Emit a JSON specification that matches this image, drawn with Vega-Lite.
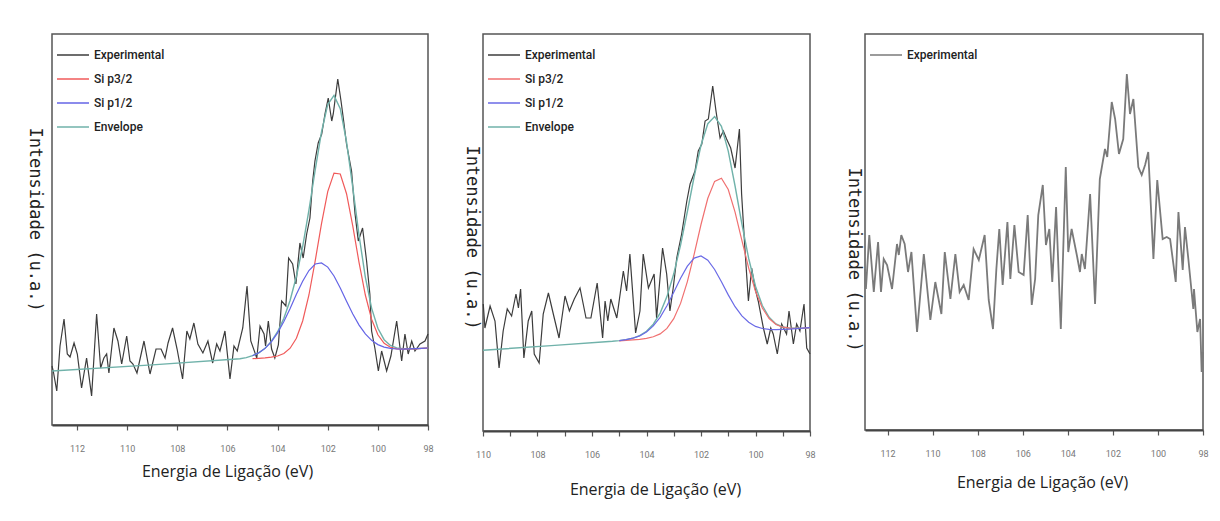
{
  "$schema": "https://vega.github.io/schema/vega-lite/v6.json",
  "background": "white",
  "padding": {"left": 25, "top": 33, "right": 5, "bottom": 5},
  "bounds": "flush",
  "spacing": 55,
  "resolve": {"scale": {"color": "independent"}, "legend": {"color": "independent"}},
  "config": {
    "view": {"stroke": "#555", "strokeWidth": 1.5},
    "axis": {"grid": false},
    "axisX": {
      "values": [98, 99, 100, 101, 102, 103, 104, 105, 106, 107, 108, 109, 110, 111, 112, 113],
      "labelExpr": "datum.value % 2 === 0 ? datum.label : ''",
      "tickSize": 5, "tickColor": "#555", "tickWidth": 1.2,
      "domainColor": "#444", "domainWidth": 2,
      "labelFont": "Roboto", "labelFontSize": 9, "labelColor": "#777", "labelPadding": 14,
      "labelFlush": false, "labelOverlap": false,
      "titleFont": "Open Sans", "titleFontSize": 16, "titleFontWeight": "normal", "titleColor": "#222",
      "titleBaseline": "middle", "titleAlign": "center"
    },
    "axisY": {
      "domain": false, "ticks": false, "labels": false,
      "titleFont": "DejaVu Sans Mono", "titleFontSize": 17, "titleFontWeight": "normal", "titleColor": "#222",
      "titleAngle": 90, "titleBaseline": "middle", "titleAlign": "center"
    },
    "legend": {
      "orient": "top-left", "offset": 10, "padding": 0,
      "labelFont": "Roboto", "labelFontSize": 12, "labelFontWeight": 500, "labelColor": "#222", "labelOffset": 10,
      "symbolSize": 400, "symbolStrokeWidth": 1.5, "rowPadding": 7
    }
  },
  "datasets": {
    "e1": [
      {"E":113.0,"I":59},{"E":112.95,"I":54},{"E":112.81,"I":34},{"E":112.68,"I":79},{"E":112.52,"I":106},{"E":112.39,"I":71},{"E":112.28,"I":68},{"E":112.12,"I":82},{"E":111.99,"I":71},{"E":111.82,"I":37},{"E":111.62,"I":67},{"E":111.42,"I":29},{"E":111.22,"I":111},{"E":111.06,"I":57},{"E":110.93,"I":67},{"E":110.82,"I":71},{"E":110.73,"I":52},{"E":110.53,"I":97},{"E":110.37,"I":84},{"E":110.22,"I":61},{"E":110.02,"I":89},{"E":109.89,"I":64},{"E":109.77,"I":61},{"E":109.61,"I":52},{"E":109.33,"I":84},{"E":109.09,"I":51},{"E":108.85,"I":76},{"E":108.65,"I":76},{"E":108.49,"I":67},{"E":108.37,"I":82},{"E":108.19,"I":97},{"E":108.01,"I":76},{"E":107.79,"I":46},{"E":107.62,"I":94},{"E":107.5,"I":86},{"E":107.34,"I":102},{"E":107.18,"I":81},{"E":106.98,"I":72},{"E":106.78,"I":84},{"E":106.59,"I":62},{"E":106.43,"I":81},{"E":106.3,"I":74},{"E":106.1,"I":94},{"E":105.9,"I":46},{"E":105.74,"I":79},{"E":105.61,"I":74},{"E":105.39,"I":97},{"E":105.22,"I":139},{"E":105.07,"I":84},{"E":104.83,"I":67},{"E":104.7,"I":99},{"E":104.54,"I":91},{"E":104.48,"I":79},{"E":104.37,"I":104},{"E":104.24,"I":76},{"E":104.11,"I":67},{"E":103.97,"I":80},{"E":103.84,"I":124},{"E":103.67,"I":119},{"E":103.56,"I":167},{"E":103.4,"I":161},{"E":103.27,"I":141},{"E":103.11,"I":182},{"E":102.98,"I":167},{"E":102.84,"I":191},{"E":102.71,"I":207},{"E":102.6,"I":244},{"E":102.51,"I":264},{"E":102.38,"I":282},{"E":102.24,"I":291},{"E":102.11,"I":311},{"E":101.98,"I":327},{"E":101.84,"I":304},{"E":101.78,"I":311},{"E":101.6,"I":346},{"E":101.47,"I":324},{"E":101.38,"I":307},{"E":101.25,"I":281},{"E":101.05,"I":254},{"E":100.91,"I":211},{"E":100.78,"I":184},{"E":100.61,"I":197},{"E":100.45,"I":164},{"E":100.32,"I":131},{"E":100.25,"I":94},{"E":100.12,"I":77},{"E":99.98,"I":54},{"E":99.85,"I":74},{"E":99.65,"I":54},{"E":99.48,"I":69},{"E":99.25,"I":104},{"E":99.05,"I":64},{"E":98.92,"I":91},{"E":98.79,"I":71},{"E":98.65,"I":84},{"E":98.52,"I":74},{"E":98.32,"I":81},{"E":98.12,"I":84},{"E":98.0,"I":91}
    ],
    "f1": [
      {"E":113,"Envelope":54.0},{"E":109,"Envelope":60.1},{"E":105.5,"Envelope":66.2},{"E":105.25,"Envelope":67.4},
      {"E":105,"Si p3/2":66.3,"Si p1/2":69.3,"Envelope":69.3},
      {"E":104.75,"Si p3/2":66.7,"Si p1/2":72.2,"Envelope":72.2},
      {"E":104.5,"Si p3/2":67.1,"Si p1/2":76.6,"Envelope":76.7},
      {"E":104.25,"Si p3/2":67.8,"Si p1/2":83.2,"Envelope":83.6},
      {"E":104,"Si p3/2":69.0,"Si p1/2":92.1,"Envelope":93.3},
      {"E":103.75,"Si p3/2":71.5,"Si p1/2":103.4,"Envelope":106.7},
      {"E":103.5,"Si p3/2":76.8,"Si p1/2":116.6,"Envelope":124.8},
      {"E":103.25,"Si p3/2":86.8,"Si p1/2":130.7,"Envelope":148.5},
      {"E":103,"Si p3/2":104.0,"Si p1/2":143.8,"Envelope":178.5},
      {"E":102.75,"Si p3/2":130.0,"Si p1/2":154.5,"Envelope":214.8},
      {"E":102.5,"Si p3/2":164.1,"Si p1/2":161.0,"Envelope":255.0},
      {"E":102.25,"Si p3/2":201.2,"Si p1/2":162.1,"Envelope":292.8},
      {"E":102,"Si p3/2":233.4,"Si p1/2":157.9,"Envelope":320.4},
      {"E":101.75,"Si p3/2":251.9,"Si p1/2":149.0,"Envelope":329.6},
      {"E":101.5,"Si p3/2":251.0,"Si p1/2":137.0,"Envelope":316.4},
      {"E":101.25,"Si p3/2":231.3,"Si p1/2":123.8,"Envelope":283.1},
      {"E":101,"Si p3/2":198.8,"Si p1/2":111.0,"Envelope":237.4},
      {"E":100.75,"Si p3/2":162.4,"Si p1/2":99.9,"Envelope":189.5},
      {"E":100.5,"Si p3/2":130.0,"Si p1/2":91.1,"Envelope":147.9},
      {"E":100.25,"Si p3/2":105.8,"Si p1/2":84.7,"Envelope":116.9},
      {"E":100,"Si p3/2":90.2,"Si p1/2":80.4,"Envelope":96.7},
      {"E":99.75,"Si p3/2":81.7,"Si p1/2":77.9,"Envelope":85.3},
      {"E":99.5,"Si p3/2":77.7,"Si p1/2":76.6,"Envelope":79.6},
      {"E":99.25,"Si p3/2":76.2,"Si p1/2":76.0,"Envelope":77.1},
      {"E":99,"Si p3/2":75.9,"Si p1/2":75.9,"Envelope":76.3},
      {"E":98.75,"Si p3/2":76.0,"Si p1/2":76.1,"Envelope":76.2},
      {"E":98.5,"Si p3/2":76.2,"Si p1/2":76.3,"Envelope":76.3},
      {"E":98.25,"Si p3/2":76.6,"Si p1/2":76.6,"Envelope":76.6},
      {"E":98,"Si p3/2":77.0,"Si p1/2":77.0,"Envelope":77.0}
    ],
    "e2": [
      {"E":109.99,"I":127},{"E":109.93,"I":103},{"E":109.74,"I":125},{"E":109.56,"I":110},{"E":109.41,"I":63},{"E":109.26,"I":100},{"E":109.11,"I":122},{"E":108.95,"I":115},{"E":108.79,"I":137},{"E":108.7,"I":123},{"E":108.62,"I":142},{"E":108.5,"I":73},{"E":108.34,"I":110},{"E":108.21,"I":120},{"E":108.12,"I":77},{"E":107.94,"I":68},{"E":107.79,"I":117},{"E":107.6,"I":138},{"E":107.42,"I":117},{"E":107.21,"I":93},{"E":106.99,"I":135},{"E":106.83,"I":120},{"E":106.65,"I":132},{"E":106.44,"I":143},{"E":106.22,"I":113},{"E":106.04,"I":113},{"E":105.81,"I":148},{"E":105.61,"I":93},{"E":105.52,"I":130},{"E":105.42,"I":110},{"E":105.31,"I":132},{"E":105.09,"I":113},{"E":104.85,"I":160},{"E":104.73,"I":140},{"E":104.61,"I":177},{"E":104.4,"I":98},{"E":104.24,"I":120},{"E":104.12,"I":177},{"E":103.93,"I":143},{"E":103.72,"I":157},{"E":103.63,"I":113},{"E":103.41,"I":183},{"E":103.26,"I":157},{"E":103.14,"I":120},{"E":103.02,"I":143},{"E":102.89,"I":173},{"E":102.71,"I":197},{"E":102.52,"I":230},{"E":102.4,"I":247},{"E":102.22,"I":260},{"E":102.1,"I":280},{"E":101.97,"I":287},{"E":101.85,"I":310},{"E":101.73,"I":312},{"E":101.57,"I":345},{"E":101.45,"I":320},{"E":101.3,"I":293},{"E":101.18,"I":300},{"E":101.06,"I":292},{"E":100.91,"I":283},{"E":100.75,"I":263},{"E":100.59,"I":302},{"E":100.51,"I":237},{"E":100.39,"I":183},{"E":100.26,"I":130},{"E":100.14,"I":163},{"E":100.02,"I":143},{"E":99.9,"I":130},{"E":99.71,"I":103},{"E":99.57,"I":87},{"E":99.44,"I":103},{"E":99.35,"I":97},{"E":99.2,"I":77},{"E":99.04,"I":107},{"E":98.86,"I":97},{"E":98.77,"I":120},{"E":98.61,"I":87},{"E":98.49,"I":107},{"E":98.37,"I":100},{"E":98.22,"I":127},{"E":98.12,"I":83},{"E":98.0,"I":77}
    ],
    "f2": [
      {"E":110,"Envelope":80.7},{"E":107.5,"Envelope":85.4},{"E":105.5,"Envelope":89.2},{"E":105.25,"Envelope":89.7},
      {"E":105,"Si p3/2":90.1,"Si p1/2":90.4,"Envelope":90.4},
      {"E":104.75,"Si p3/2":90.6,"Si p1/2":91.3,"Envelope":91.3},
      {"E":104.5,"Si p3/2":91.2,"Si p1/2":92.8,"Envelope":92.9},
      {"E":104.25,"Si p3/2":91.7,"Si p1/2":95.1,"Envelope":95.3},
      {"E":104,"Si p3/2":92.7,"Si p1/2":99.0,"Envelope":99.7},
      {"E":103.75,"Si p3/2":94.2,"Si p1/2":105.1,"Envelope":106.8},
      {"E":103.5,"Si p3/2":97.1,"Si p1/2":113.7,"Envelope":117.9},
      {"E":103.25,"Si p3/2":102.6,"Si p1/2":125.2,"Envelope":134.4},
      {"E":103,"Si p3/2":112.3,"Si p1/2":138.8,"Envelope":157.2},
      {"E":102.75,"Si p3/2":127.6,"Si p1/2":152.8,"Envelope":186.0},
      {"E":102.5,"Si p3/2":149.4,"Si p1/2":164.9,"Envelope":219.5},
      {"E":102.25,"Si p3/2":176.9,"Si p1/2":172.9,"Envelope":254.5},
      {"E":102,"Si p3/2":206.5,"Si p1/2":175.0,"Envelope":285.7},
      {"E":101.75,"Si p3/2":232.7,"Si p1/2":170.8,"Envelope":307.3},
      {"E":101.5,"Si p3/2":249.6,"Si p1/2":161.5,"Envelope":314.4},
      {"E":101.25,"Si p3/2":252.7,"Si p1/2":149.2,"Envelope":304.7},
      {"E":101,"Si p3/2":241.5,"Si p1/2":136.1,"Envelope":279.9},
      {"E":100.75,"Si p3/2":218.8,"Si p1/2":124.3,"Envelope":245.0},
      {"E":100.5,"Si p3/2":190.7,"Si p1/2":115.1,"Envelope":207.2},
      {"E":100.25,"Si p3/2":162.9,"Si p1/2":108.7,"Envelope":172.5},
      {"E":100,"Si p3/2":139.7,"Si p1/2":104.6,"Envelope":144.8},
      {"E":99.75,"Si p3/2":123.0,"Si p1/2":102.5,"Envelope":125.5},
      {"E":99.5,"Si p3/2":112.5,"Si p1/2":101.7,"Envelope":113.7},
      {"E":99.25,"Si p3/2":106.5,"Si p1/2":101.4,"Envelope":107.0},
      {"E":99,"Si p3/2":103.8,"Si p1/2":101.6,"Envelope":104.0},
      {"E":98.75,"Si p3/2":102.8,"Si p1/2":101.9,"Envelope":102.8},
      {"E":98.5,"Si p3/2":102.7,"Si p1/2":102.4,"Envelope":102.7},
      {"E":98.25,"Si p3/2":102.9,"Si p1/2":102.8,"Envelope":102.9},
      {"E":98,"Si p3/2":103.3,"Si p1/2":103.3,"Envelope":103.3}
    ],
    "e3": [
      {"E":113.0,"I":161},{"E":112.96,"I":141},{"E":112.81,"I":195},{"E":112.61,"I":138},{"E":112.42,"I":188},{"E":112.29,"I":138},{"E":112.17,"I":171},{"E":112.02,"I":165},{"E":111.8,"I":141},{"E":111.58,"I":186},{"E":111.5,"I":175},{"E":111.39,"I":195},{"E":111.24,"I":186},{"E":111.09,"I":158},{"E":110.94,"I":178},{"E":110.69,"I":98},{"E":110.39,"I":176},{"E":110.1,"I":110},{"E":109.88,"I":148},{"E":109.61,"I":116},{"E":109.46,"I":178},{"E":109.21,"I":131},{"E":108.99,"I":176},{"E":108.8,"I":138},{"E":108.62,"I":145},{"E":108.4,"I":130},{"E":108.18,"I":181},{"E":107.95,"I":170},{"E":107.69,"I":195},{"E":107.51,"I":130},{"E":107.32,"I":101},{"E":107.17,"I":161},{"E":107.04,"I":201},{"E":106.89,"I":145},{"E":106.68,"I":208},{"E":106.55,"I":151},{"E":106.37,"I":205},{"E":106.18,"I":158},{"E":105.96,"I":155},{"E":105.78,"I":215},{"E":105.6,"I":125},{"E":105.45,"I":151},{"E":105.31,"I":215},{"E":105.11,"I":245},{"E":104.97,"I":185},{"E":104.82,"I":201},{"E":104.69,"I":148},{"E":104.52,"I":223},{"E":104.31,"I":101},{"E":104.09,"I":263},{"E":103.98,"I":178},{"E":103.83,"I":201},{"E":103.6,"I":175},{"E":103.46,"I":158},{"E":103.38,"I":176},{"E":103.24,"I":161},{"E":103.01,"I":236},{"E":102.79,"I":126},{"E":102.58,"I":251},{"E":102.35,"I":281},{"E":102.25,"I":273},{"E":102.05,"I":328},{"E":101.9,"I":311},{"E":101.73,"I":276},{"E":101.54,"I":291},{"E":101.38,"I":356},{"E":101.24,"I":316},{"E":101.09,"I":331},{"E":100.87,"I":263},{"E":100.72,"I":255},{"E":100.57,"I":265},{"E":100.43,"I":278},{"E":100.2,"I":171},{"E":100.03,"I":250},{"E":99.79,"I":191},{"E":99.61,"I":193},{"E":99.46,"I":191},{"E":99.21,"I":148},{"E":99.09,"I":218},{"E":98.9,"I":160},{"E":98.8,"I":203},{"E":98.65,"I":171},{"E":98.43,"I":121},{"E":98.4,"I":141},{"E":98.25,"I":98},{"E":98.13,"I":111},{"E":98.06,"I":58},{"E":98.01,"I":78}
    ]
  },
  "hconcat": [
    {
      "width": 376, "height": 391,
      "encoding": {
        "x": {"field": "E", "type": "quantitative", "title": "Energia de Ligação (eV)",
              "scale": {"domain": [98, 113], "reverse": true, "nice": false, "zero": false},
              "axis": {"titleX": 175, "titleY": 46}},
        "y": {"field": "I", "type": "quantitative", "title": "Intensidade (u.a.)",
              "scale": {"domain": [0, 391], "nice": false, "zero": false},
              "axis": {"titleX": -18, "titleY": 185}}
      },
      "layer": [
        {"data": {"name": "e1"}, "mark": {"type": "line", "strokeWidth": 1.2},
         "encoding": {"color": {"datum": "Experimental", "type": "nominal", "title": null,
           "scale": {"domain": ["Experimental", "Si p3/2", "Si p1/2", "Envelope"], "range": ["#3c3c3c", "#f05a5a", "#6464e6", "#70b2aa"]},
           "legend": {"title": null, "symbolType": "M-1.6,0H1.6"}}}},
        {"data": {"name": "f1"}, "transform": [{"fold": ["Envelope"], "as": ["serie", "I"]}],
         "mark": {"type": "line", "strokeWidth": 1.4}, "encoding": {"color": {"field": "serie", "type": "nominal", "title": null}}},
        {"data": {"name": "f1"}, "transform": [{"fold": ["Si p3/2"], "as": ["serie", "I"]}],
         "mark": {"type": "line", "strokeWidth": 1.2}, "encoding": {"color": {"field": "serie", "type": "nominal", "title": null}}},
        {"data": {"name": "f1"}, "transform": [{"fold": ["Si p1/2"], "as": ["serie", "I"]}],
         "mark": {"type": "line", "strokeWidth": 1.2}, "encoding": {"color": {"field": "serie", "type": "nominal", "title": null}}}
      ]
    },
    {
      "width": 327, "height": 397,
      "encoding": {
        "x": {"field": "E", "type": "quantitative", "title": "Energia de Ligação (eV)",
              "scale": {"domain": [98, 110], "reverse": true, "nice": false, "zero": false},
              "axis": {"titleX": 172, "titleY": 58}},
        "y": {"field": "I", "type": "quantitative", "title": "Intensidade (u.a.)",
              "scale": {"domain": [0, 397], "nice": false, "zero": false},
              "axis": {"titleX": -12, "titleY": 203}}
      },
      "layer": [
        {"data": {"name": "e2"}, "mark": {"type": "line", "strokeWidth": 1.2},
         "encoding": {"color": {"datum": "Experimental", "type": "nominal", "title": null,
           "scale": {"domain": ["Experimental", "Si p3/2", "Si p1/2", "Envelope"], "range": ["#3c3c3c", "#f07070", "#6a6ae6", "#70b2aa"]},
           "legend": {"title": null, "symbolType": "M-1.6,0H1.6"}}}},
        {"data": {"name": "f2"}, "transform": [{"fold": ["Envelope"], "as": ["serie", "I"]}],
         "mark": {"type": "line", "strokeWidth": 1.4}, "encoding": {"color": {"field": "serie", "type": "nominal", "title": null}}},
        {"data": {"name": "f2"}, "transform": [{"fold": ["Si p3/2"], "as": ["serie", "I"]}],
         "mark": {"type": "line", "strokeWidth": 1.2}, "encoding": {"color": {"field": "serie", "type": "nominal", "title": null}}},
        {"data": {"name": "f2"}, "transform": [{"fold": ["Si p1/2"], "as": ["serie", "I"]}],
         "mark": {"type": "line", "strokeWidth": 1.2}, "encoding": {"color": {"field": "serie", "type": "nominal", "title": null}}}
      ]
    },
    {
      "width": 338, "height": 396,
      "data": {"name": "e3"},
      "mark": {"type": "line", "strokeWidth": 1.8},
      "encoding": {
        "x": {"field": "E", "type": "quantitative", "title": "Energia de Ligação (eV)",
              "scale": {"domain": [98, 113], "reverse": true, "nice": false, "zero": false},
              "axis": {"titleX": 177, "titleY": 52}},
        "y": {"field": "I", "type": "quantitative", "title": "Intensidade (u.a.)",
              "scale": {"domain": [0, 396], "nice": false, "zero": false},
              "axis": {"titleX": -12, "titleY": 225}},
        "color": {"datum": "Experimental", "type": "nominal", "title": null,
          "scale": {"domain": ["Experimental"], "range": ["#7a7a7a"]},
          "legend": {"title": null, "symbolType": "M-1.6,0H1.6"}}
      }
    }
  ]
}
